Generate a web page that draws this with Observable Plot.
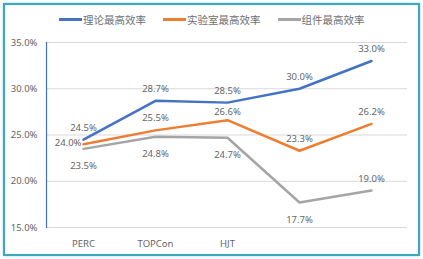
<!DOCTYPE html>
<html>
<head>
<meta charset="utf-8">
<script src="https://cdn.jsdelivr.net/npm/d3@7"></script>
<script src="https://cdn.jsdelivr.net/npm/@observablehq/plot@0.6"></script>
<style>
  body { margin: 0; background: #fff; }
  #wrap { position: relative; width: 423px; height: 259px; overflow: hidden; background: #fff; font-family: "Noto Sans", "Noto Sans CJK SC", sans-serif; }
  #border { position: absolute; left: 3px; top: 3px; width: 413px; height: 249px; border: 2px solid #3fa6bf; box-shadow: 0 0 3px #a8dbe8, inset 0 0 2px #cdeef5; }
  #legend { position: absolute; top: 12px; left: 59px; display: flex; align-items: center; font-family: "Noto Sans CJK SC", sans-serif; font-size: 10.5px; color: #707070; }
  .item { display: flex; align-items: center; margin-right: 17px; }
  .sw { width: 23px; height: 3px; margin-right: 1px; }
  #chart { position: absolute; left: 0; top: 32px; }
</style>
</head>
<body>
<div id="wrap">
  <div id="border"></div>
  <div id="legend"></div>
  <div id="chart"></div>
</div>
<script>
const categories = ["PERC", "TOPCon", "HJT", "", ""];
const seriesNames = ["理论最高效率", "实验室最高效率", "组件最高效率"];
const theoretical = [24.5, 28.7, 28.5, 30.0, 33.0];
const laboratory = [24.0, 25.5, 26.6, 23.3, 26.2];
const module_ = [23.5, 24.8, 24.7, 17.7, 19.0];
const yTicks = [15, 20, 25, 30, 35];
const colors = ["#4472c4", "#ed7d31", "#a5a5a5"];

const seriesValues = [theoretical, laboratory, module_];
const data = [];
seriesValues.forEach((vals, s) => vals.forEach((v, i) => data.push({ s, i, v })));

const legend = document.getElementById("legend");
seriesNames.forEach((n, s) => {
  const it = document.createElement("div");
  it.className = "item";
  it.innerHTML = `<span class="sw" style="background:${colors[s]}"></span><span>${n}</span>`;
  legend.appendChild(it);
});

// label placement groups
const isLeft = d => d.s === 1 && d.i === 0;
const isBelow = d => d.s === 2 && d.i < 4;
const isClose = d => d.s === 1 && d.i === 2;
const isAbove = d => !isLeft(d) && !isBelow(d) && !isClose(d);
const fmt = d => d.v.toFixed(1) + "%";
const textStyle = { fontSize: 9.5, fill: "#666", fontFamily: "Noto Sans, sans-serif" };

const chart = Plot.plot({
  width: 423,
  height: 227,
  marginLeft: 46,
  marginRight: 16,
  marginTop: 10,
  marginBottom: 32,
  style: { fontFamily: "Noto Sans, sans-serif", fontSize: "9px", color: "#666", background: "transparent" },
  x: { type: "point", domain: d3.range(categories.length), padding: 0.5, label: null },
  y: { domain: [15, 35], label: null },
  marks: [
    Plot.gridY(yTicks, { stroke: "#d9d9d9", strokeOpacity: 1, strokeWidth: 1 }),
    Plot.axisY(yTicks, { tickSize: 0, tickPadding: 9, tickFormat: d => d.toFixed(1) + "%", fill: "#666", fontSize: 9.5 }),
    Plot.axisX(d3.range(categories.length), { tickSize: 0, tickPadding: 13, tickFormat: i => categories[i], fill: "#666", fontSize: 9.5 }),
    Plot.frame({ anchor: "left", stroke: "#4472c4", strokeWidth: 1.2 }),
    Plot.line(data, { x: "i", y: "v", z: "s", stroke: d => colors[d.s], strokeWidth: 2.5 }),
    Plot.text(data.filter(isAbove), { x: "i", y: "v", text: fmt, dy: -12, ...textStyle }),
    Plot.text(data.filter(isClose), { x: "i", y: "v", text: fmt, dy: -8, ...textStyle }),
    Plot.text(data.filter(isBelow), { x: "i", y: "v", text: fmt, dy: 17, ...textStyle }),
    Plot.text(data.filter(isLeft), { x: "i", y: "v", text: fmt, dx: -2, dy: -1, textAnchor: "end", ...textStyle })
  ]
});
document.getElementById("chart").appendChild(chart);
</script>
</body>
</html>
